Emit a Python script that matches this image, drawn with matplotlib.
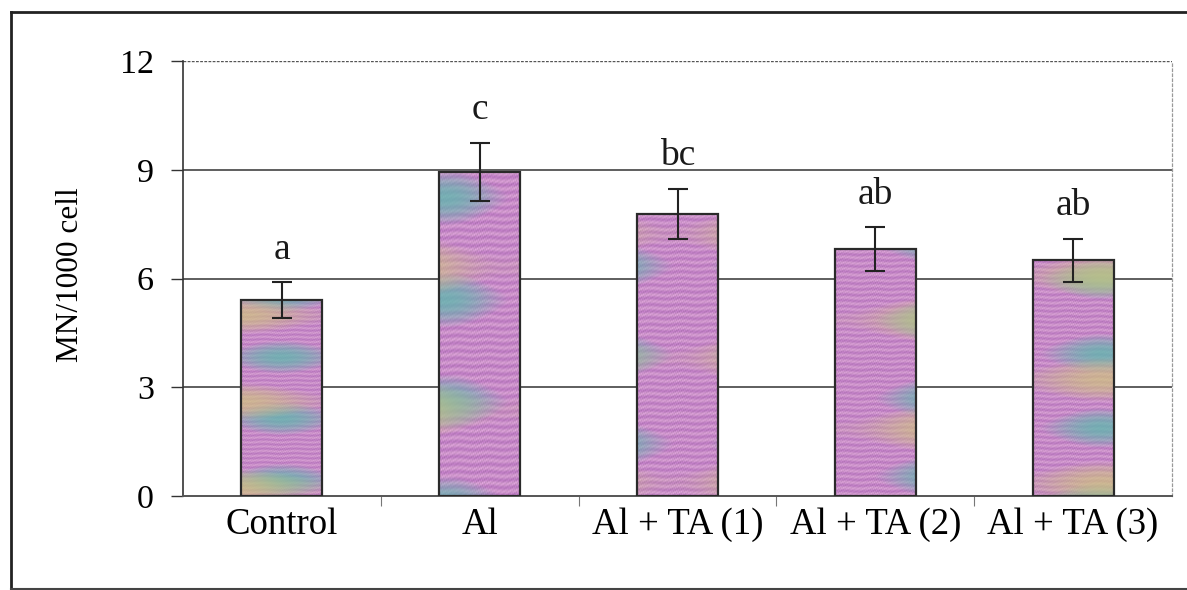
import numpy as np
import matplotlib
matplotlib.use("Agg")
import matplotlib.pyplot as plt
from matplotlib.colors import to_rgb
from matplotlib.lines import Line2D

plt.rcParams['font.family'] = ['Liberation Serif', 'DejaVu Serif']

# data
groups = ["Control", "Al", "Al + TA (1)", "Al + TA (2)", "Al + TA (3)"]
mn_means = [5.4, 8.95, 7.78, 6.82, 6.5]
mn_err = [0.5, 0.8, 0.7, 0.6, 0.6]
letters = ["a", "c", "bc", "ab", "ab"]

fig = plt.figure(figsize=(11.87, 5.90), dpi=100)
ax = fig.add_axes([183/1187, 1 - 496/590, 989/1187, 435/590])

x = np.arange(len(groups))
bars = ax.bar(x, mn_means, width=0.41, color='#c98ccb', linewidth=0, zorder=3)

# scanned-looking fill: fine pink/magenta rows with teal and olive bands
pink = np.array(to_rgb('#dca2d8'))
mag = np.array(to_rgb('#a95cb8'))
teal = np.array(to_rgb('#62b6ae'))
olive = np.array(to_rgb('#cfc47c'))
yy, xx = np.mgrid[0:300, 0:80].astype(float)
for i, b in enumerate(bars):
    s = 0.5 + 0.5 * np.sin(yy * 0.9 + 0.5 * np.sin(xx * 0.21 + i) + i)
    g = 0.5 + 0.5 * np.sin(xx * 2.3 + yy * 1.7) * np.sin(xx * 1.1 - yy * 2.9)
    rgb = pink * (1 - 0.5 * s[..., None]) + mag * (0.5 * s[..., None])
    rgb = rgb * (0.86 + 0.2 * g[..., None])
    wt = np.clip(0.7 * np.sin(yy / 15 + i * 2.1) + 0.45 * np.sin(xx / 25 + i * 1.3) - 0.35, 0, 0.85)
    wo = np.clip(0.9 * np.sin(yy / 21 + i * 3.1 + 1) + 0.3 * np.cos(xx / 30 + i) - 0.5, 0, 0.85)
    rgb = rgb * (1 - wt[..., None]) + teal * wt[..., None]
    rgb = rgb * (1 - wo[..., None]) + olive * wo[..., None]
    im = ax.imshow(np.clip(rgb, 0, 1), aspect='auto', origin='lower', zorder=3,
                   extent=[b.get_x(), b.get_x() + b.get_width(), 0, b.get_height()],
                   interpolation='bilinear')
    im.set_clip_path(b)

ax.bar(x, mn_means, width=0.41, fill=False, edgecolor='#2a2a2a', linewidth=1.6, zorder=5)

ax.errorbar(x, mn_means, yerr=mn_err, fmt='none', ecolor='#222222',
            elinewidth=1.5, capsize=7, capthick=1.5, zorder=6)

for xi, m, e, lab in zip(x, mn_means, mn_err, letters):
    ax.text(xi, m + e + 0.9, lab, ha='center', va='center', fontsize=27,
            color='#1a1a1a')

ax.set_xlim(-0.5, len(groups) - 0.5)
ax.set_ylim(0, 12)
ax.set_yticks([0, 3, 6, 9, 12])
ax.set_xticks(x)
ax.set_xticklabels(groups, fontsize=26.5)
ax.tick_params(axis='y', labelsize=24.5, length=9, width=1, color='#333333',
               pad=12, direction='out')
ax.tick_params(axis='x', length=0, pad=8)
ax.set_xticks(np.arange(0.5, len(groups) - 0.5, 1), minor=True)
ax.tick_params(axis='x', which='minor', length=7, width=0.8, color='#777777',
               direction='out')

for yv in [3, 6, 9]:
    ax.axhline(yv, color='#333333', linewidth=1.1, zorder=1)
ax.axhline(12, color='#555555', linewidth=1.0, linestyle=(0, (2, 1)), zorder=1)

ax.spines['left'].set_color('#333333')
ax.spines['left'].set_linewidth(1.2)
ax.spines['bottom'].set_color('#555555')
ax.spines['bottom'].set_linewidth(1.4)
ax.spines['top'].set_visible(False)
ax.spines['right'].set_color('#999999')
ax.spines['right'].set_linestyle((0, (2, 2)))
ax.spines['right'].set_linewidth(0.9)

fig.text(71/1187, 1 - 275/590, "MN/1000 cell", rotation=90, ha='center',
         va='center', fontsize=22.5)

# outer frame of the scanned figure
fig.add_artist(Line2D([11/1187, 11/1187], [0, 1 - 12/590], color='#222222', lw=2))
fig.add_artist(Line2D([11/1187, 1], [1 - 12/590, 1 - 12/590], color='#222222', lw=2))
fig.add_artist(Line2D([11/1187, 1], [1/590, 1/590], color='#444444', lw=1.5))

fig.savefig("out.png", dpi=100)
